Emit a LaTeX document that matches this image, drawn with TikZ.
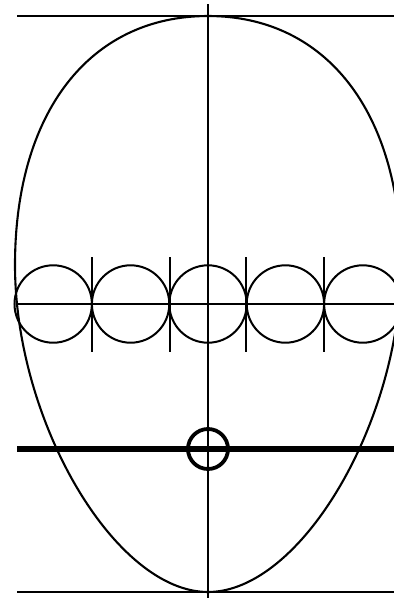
\documentclass[tikz,border=0pt]{standalone}
\begin{document}
\begin{tikzpicture}[x=1pt,y=-1pt,
  thin line/.style={line width=2pt,draw=black},
  egg line/.style={line width=2.1pt,draw=black},
  thick line/.style={line width=6pt,draw=black},
  mark circle/.style={line width=3.8pt,draw=black}]
\useasboundingbox (0,0) rectangle (394,598);
\clip (0,0) rectangle (394,598);
\fill[white] (0,0) rectangle (394,598);
% egg outline
\draw[egg line] (208,16) .. controls (89.7,16) and (15,112.4) .. (15,265)
  .. controls (15,422) and (115.4,592) .. (208,592)
  .. controls (300.6,592) and (401,422) .. (401,265)
  .. controls (401,112.4) and (326.3,16) .. (208,16) -- cycle;
% horizontal guide lines
\draw[thin line] (17,16) -- (394,16);
\draw[thin line] (16,304) -- (394,304);
\draw[thin line] (17,592) -- (394,592);
% vertical axis
\draw[thin line] (208,4) -- (208,598);
% eye-width circles
\foreach \i in {-2,-1,0,1,2} {
  \draw[thin line] (208+77.4*\i,304) circle[radius=38.7];
}
\foreach \x in {92,170,246,324} {
  \draw[thin line] (\x,257) -- (\x,352);
}
% mouth/nose line
\draw[thick line] (17,449) -- (394,449);
\draw[mark circle] (208,449) circle[radius=20];
\end{tikzpicture}
\end{document}
